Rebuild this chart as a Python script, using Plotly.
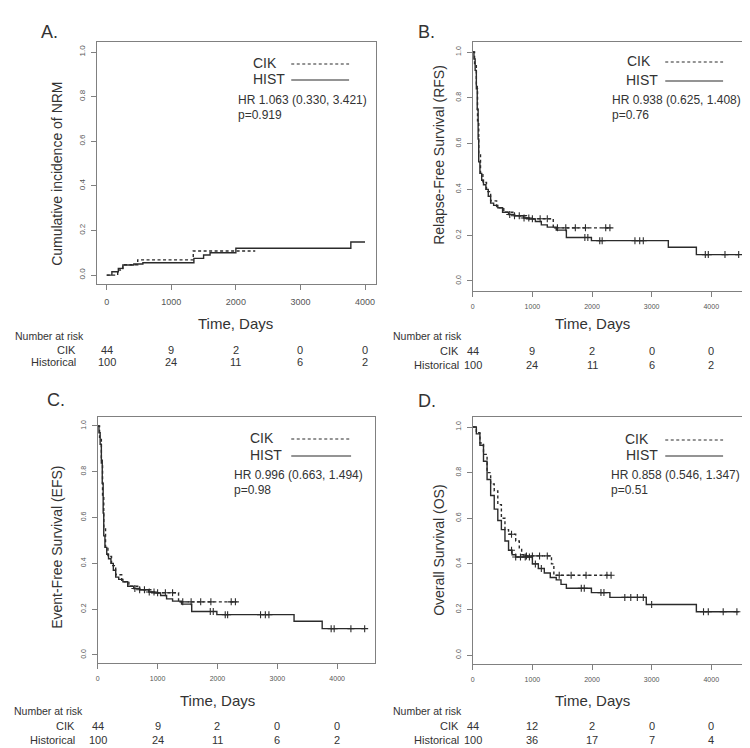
import numpy as np
import plotly.graph_objects as go

# ---- data ----
# A. cumulative incidence of NRM
nrm_cik_t = [0, 170, 250, 480, 1340, 2300]
nrm_cik_y = [0.0, 0.023, 0.046, 0.068, 0.108, 0.108]
nrm_hist_t = [0, 80, 180, 250, 420, 560, 1350, 1500, 1600, 2000, 3780, 4000]
nrm_hist_y = [0.0, 0.015, 0.03, 0.045, 0.05, 0.055, 0.075, 0.09, 0.10, 0.12, 0.148, 0.148]
nrm_cik_cens = []
nrm_hist_cens = []

# B. relapse-free survival
rfs_cik_t = [0, 30, 60, 80, 100, 130, 170, 230, 300, 400, 520, 700, 900, 1350, 2320]
rfs_cik_y = [1.0, 0.95, 0.84, 0.70, 0.55, 0.47, 0.43, 0.39, 0.35, 0.32, 0.30, 0.285, 0.272, 0.232, 0.232]
rfs_hist_t = [0, 20, 40, 60, 75, 90, 100, 120, 150, 180, 220, 260, 300, 350, 420, 500, 600, 700,
              850, 950, 1050, 1150, 1250, 1400, 1570, 1990, 3280, 3750, 4465]
rfs_hist_y = [1.0, 0.97, 0.92, 0.85, 0.75, 0.62, 0.52, 0.47, 0.44, 0.42, 0.40, 0.37, 0.34, 0.33,
              0.32, 0.30, 0.29, 0.285, 0.275, 0.27, 0.26, 0.245, 0.235, 0.222, 0.19, 0.176, 0.147, 0.115, 0.115]
rfs_cik_cens = [1000, 1130, 1250, 1420, 1560, 1720, 1890, 2230, 2300]
rfs_hist_cens = [620, 700, 780, 860, 940, 1880, 1930, 2130, 2170, 2720, 2800, 2860, 3900, 3950, 4230, 4460]

# C. event-free survival
efs_cik_t = [0, 30, 60, 80, 100, 130, 170, 230, 300, 400, 520, 700, 900, 1350, 2320]
efs_cik_y = [1.0, 0.95, 0.83, 0.69, 0.55, 0.47, 0.43, 0.39, 0.35, 0.32, 0.30, 0.285, 0.272, 0.232, 0.232]
efs_hist_t = [0, 20, 40, 60, 75, 90, 100, 120, 150, 180, 220, 260, 300, 350, 420, 500, 600, 700,
              850, 950, 1050, 1150, 1250, 1400, 1570, 1990, 3280, 3750, 4465]
efs_hist_y = [1.0, 0.97, 0.92, 0.85, 0.75, 0.62, 0.52, 0.47, 0.44, 0.42, 0.40, 0.37, 0.34, 0.33,
              0.32, 0.30, 0.29, 0.285, 0.275, 0.27, 0.26, 0.245, 0.235, 0.222, 0.19, 0.176, 0.147, 0.115, 0.115]
efs_cik_cens = [1000, 1130, 1250, 1420, 1560, 1720, 1890, 2230, 2300]
efs_hist_cens = [620, 700, 780, 860, 940, 1880, 1930, 2130, 2170, 2720, 2800, 2860, 3900, 3950, 4230, 4460]

# D. overall survival
os_cik_t = [0, 60, 120, 180, 240, 300, 360, 420, 480, 540, 600, 720, 780, 820, 860, 1320, 1360, 2320]
os_cik_y = [1.0, 0.975, 0.93, 0.88, 0.80, 0.75, 0.72, 0.66, 0.60, 0.55, 0.53, 0.50, 0.47, 0.44, 0.435,
            0.40, 0.35, 0.35]
os_hist_t = [0, 60, 120, 180, 240, 300, 360, 420, 480, 540, 600, 660, 720, 1000, 1100, 1200, 1300,
             1400, 1480, 1570, 1990, 2300, 2910, 3750, 4460]
os_hist_y = [1.0, 0.97, 0.92, 0.85, 0.77, 0.70, 0.64, 0.59, 0.55, 0.50, 0.46, 0.44, 0.43, 0.40, 0.38,
             0.36, 0.34, 0.33, 0.31, 0.293, 0.274, 0.253, 0.222, 0.19, 0.19]
os_cik_cens = [650, 900, 1000, 1120, 1250, 1450, 1650, 1900, 2250, 2320]
os_hist_cens = [650, 720, 800, 880, 950, 1050, 1150, 1820, 1870, 2150, 2200, 2550, 2650, 2760, 2860,
                3000, 3870, 3950, 4200, 4430]

# number at risk tables
risk_times = [0, 1000, 2000, 3000, 4000]
risk_cik = {"A": [44, 9, 2, 0, 0], "B": [44, 9, 2, 0, 0], "C": [44, 9, 2, 0, 0], "D": [44, 12, 2, 0, 0]}
risk_hist = {"A": [100, 24, 11, 6, 2], "B": [100, 24, 11, 6, 2], "C": [100, 24, 11, 6, 2], "D": [100, 36, 17, 7, 4]}

y_titles = {"A": "Cumulative incidence of NRM", "B": "Relapse-Free Survival (RFS)",
            "C": "Event-Free Survival (EFS)", "D": "Overall Survival (OS)"}
hr_text = {"A": ["HR 1.063 (0.330, 3.421)", "p=0.919"], "B": ["HR 0.938 (0.625, 1.408)", "p=0.76"],
           "C": ["HR 0.996 (0.663, 1.494)", "p=0.98"], "D": ["HR 0.858 (0.546, 1.347)", "p=0.51"]}

W, H = 750, 748
FONT = "Liberation Sans, Arial, sans-serif"
INK = "#2b2b2b"
TXT = "#333333"
BOX = "#808080"
DASH = "3px,2.5px"


def fx(px):
    return px / W


def fy(py):
    return 1 - py / H


# pixel geometry of each panel (box left/right/top/bottom, label positions)
panels = {
    "A": dict(n=1, box=(87, 367, 34, 276), xr=[-154, 4170], yr=[-0.040, 1.045], tickfs=9, ytickfs=8,
              letter=(29, 24), ytitle=(47, 166), xlab_y=315, risk_y=(328, 342, 354), risk_lx=(3, 68),
              leg=(270, 278, 282, 340, 55, 71), hr=(227, 92, 107)),
    "B": dict(n=2, box=(464, 742, 34, 283), xr=[0, 4650], yr=[-0.044, 1.044], tickfs=7, ytickfs=7,
              letter=(407, 24), ytitle=(430, 147), xlab_y=315, risk_y=(328, 343, 357), risk_lx=(382, 452),
              leg=(645, 652, 657, 715, 53, 72), hr=(602, 92, 107)),
    "C": dict(n=3, box=(88, 366, 409, 655), xr=[0, 4633], yr=[-0.035, 1.039], tickfs=7, ytickfs=7,
              letter=(35, 392), ytitle=(47, 539), xlab_y=692, risk_y=(703, 718, 732), risk_lx=(2, 67),
              leg=(267, 275, 282, 342, 430, 447), hr=(223, 467, 482)),
    "D": dict(n=4, box=(464, 742, 409, 656), xr=[0, 4650], yr=[-0.039, 1.044], tickfs=7, ytickfs=7,
              letter=(407, 393), ytitle=(430, 542), xlab_y=692, risk_y=(703, 718, 732), risk_lx=(382, 452),
              leg=(643, 652, 657, 715, 431, 447), hr=(601, 467, 482)),
}

curves = {
    "A": (nrm_cik_t, nrm_cik_y, nrm_cik_cens, nrm_hist_t, nrm_hist_y, nrm_hist_cens),
    "B": (rfs_cik_t, rfs_cik_y, rfs_cik_cens, rfs_hist_t, rfs_hist_y, rfs_hist_cens),
    "C": (efs_cik_t, efs_cik_y, efs_cik_cens, efs_hist_t, efs_hist_y, efs_hist_cens),
    "D": (os_cik_t, os_cik_y, os_cik_cens, os_hist_t, os_hist_y, os_hist_cens),
}


def step_at(t, y, pts):
    idx = np.searchsorted(np.array(t), np.array(pts, dtype=float), side="right") - 1
    return [y[i] for i in idx]


def add_km(fig, t, y, cens, xa, ya, dash):
    fig.add_trace(go.Scatter(x=t, y=y, mode="lines", line=dict(color=INK, width=1.4, dash=dash, shape="hv"),
                             xaxis=xa, yaxis=ya, hoverinfo="skip", showlegend=False))
    if cens:
        fig.add_trace(go.Scatter(x=cens, y=step_at(t, y, cens), mode="markers",
                                 marker=dict(symbol="cross-thin", size=5, line=dict(width=1.1, color=INK)),
                                 xaxis=xa, yaxis=ya, hoverinfo="skip", showlegend=False))


def main():
    fig = go.Figure()
    annotations = []
    shapes = []
    layout = {}

    for key, p in panels.items():
        n = p["n"]
        xa = "x" if n == 1 else "x%d" % n
        ya = "y" if n == 1 else "y%d" % n
        l, r, t, b = p["box"]

        ct, cy, cc, ht, hy, hc = curves[key]
        add_km(fig, ht, hy, hc, xa, ya, "solid")
        add_km(fig, ct, cy, cc, xa, ya, DASH)

        axis_common = dict(showline=True, mirror=True, linecolor=BOX, linewidth=1, ticks="outside",
                           ticklen=5, tickcolor=BOX, showgrid=False, zeroline=False)
        layout["xaxis" if n == 1 else "xaxis%d" % n] = dict(
            axis_common, domain=[fx(l), fx(r)], range=p["xr"], anchor=ya,
            tickvals=risk_times, ticklabelstandoff=4,
            tickfont=dict(family=FONT, color="#555555", size=p["tickfs"]))
        layout["yaxis" if n == 1 else "yaxis%d" % n] = dict(
            axis_common, domain=[fy(b), fy(t)], range=p["yr"], anchor=xa,
            tickvals=[0, 0.2, 0.4, 0.6, 0.8, 1.0], tickformat=".1f", tickangle=-90, ticklabelstandoff=3,
            tickfont=dict(family=FONT, color="#555555", size=p["ytickfs"]))

        # panel letter and titles
        annotations.append(dict(text=key + ".", x=fx(p["letter"][0]), y=fy(p["letter"][1]), xref="paper",
                                yref="paper", xanchor="left", yanchor="middle", showarrow=False,
                                font=dict(family=FONT, size=18, color=TXT)))
        annotations.append(dict(text=y_titles[key], x=fx(p["ytitle"][0]), y=fy(p["ytitle"][1]),
                                xref="paper", yref="paper", textangle=-90, showarrow=False,
                                xanchor="center", yanchor="middle", font=dict(family=FONT, size=14, color=TXT)))
        annotations.append(dict(text="Time, Days", x=2000, xref=xa, y=fy(p["xlab_y"]), yref="paper",
                                showarrow=False, xanchor="center", yanchor="middle",
                                font=dict(family=FONT, size=15, color=TXT)))

        # legend drawn R-style: label then line sample
        cik_r, hist_r, ln0, ln1, cik_y, hist_y = p["leg"]
        for label, xr_, yy, dash in [("CIK", cik_r, cik_y, DASH), ("HIST", hist_r, hist_y, "solid")]:
            annotations.append(dict(text=label, x=fx(xr_), y=fy(yy), xref="paper", yref="paper",
                                    xanchor="right", yanchor="middle", showarrow=False,
                                    font=dict(family=FONT, size=14, color=TXT)))
            shapes.append(dict(type="line", xref="paper", yref="paper", x0=fx(ln0), x1=fx(ln1),
                               y0=fy(yy + 1), y1=fy(yy + 1), line=dict(color=INK, width=1.2, dash=dash)))
        hx, hy1, hy2 = p["hr"]
        for txt, yy in zip(hr_text[key], [hy1, hy2]):
            annotations.append(dict(text=txt, x=fx(hx), y=fy(yy), xref="paper", yref="paper",
                                    xanchor="left", yanchor="middle", showarrow=False,
                                    font=dict(family=FONT, size=12, color=TXT)))

        # number at risk table
        ry0, ry1, ry2 = p["risk_y"]
        lx0, lx1 = p["risk_lx"]
        annotations.append(dict(text="Number at risk", x=fx(lx0), y=fy(ry0), xref="paper", yref="paper",
                                xanchor="left", yanchor="middle", showarrow=False,
                                font=dict(family=FONT, size=10.5, color=TXT)))
        for label, vals, yy in [("CIK", risk_cik[key], ry1), ("Historical", risk_hist[key], ry2)]:
            annotations.append(dict(text=label, x=fx(lx1), y=fy(yy), xref="paper", yref="paper",
                                    xanchor="right", yanchor="middle", showarrow=False,
                                    font=dict(family=FONT, size=11, color=TXT)))
            for tt, v in zip(risk_times, vals):
                annotations.append(dict(text=str(v), x=tt, xref=xa, y=fy(yy), yref="paper",
                                        xanchor="center", yanchor="middle", showarrow=False,
                                        font=dict(family=FONT, size=11, color=TXT)))

    fig.update_layout(**layout)
    fig.update_layout(width=W, height=H, autosize=False, margin=dict(l=0, r=0, t=0, b=0),
                      paper_bgcolor="white", plot_bgcolor="white", showlegend=False,
                      annotations=annotations, shapes=shapes, font=dict(family=FONT))
    fig.write_html("out.html")


if __name__ == "__main__":
    main()
